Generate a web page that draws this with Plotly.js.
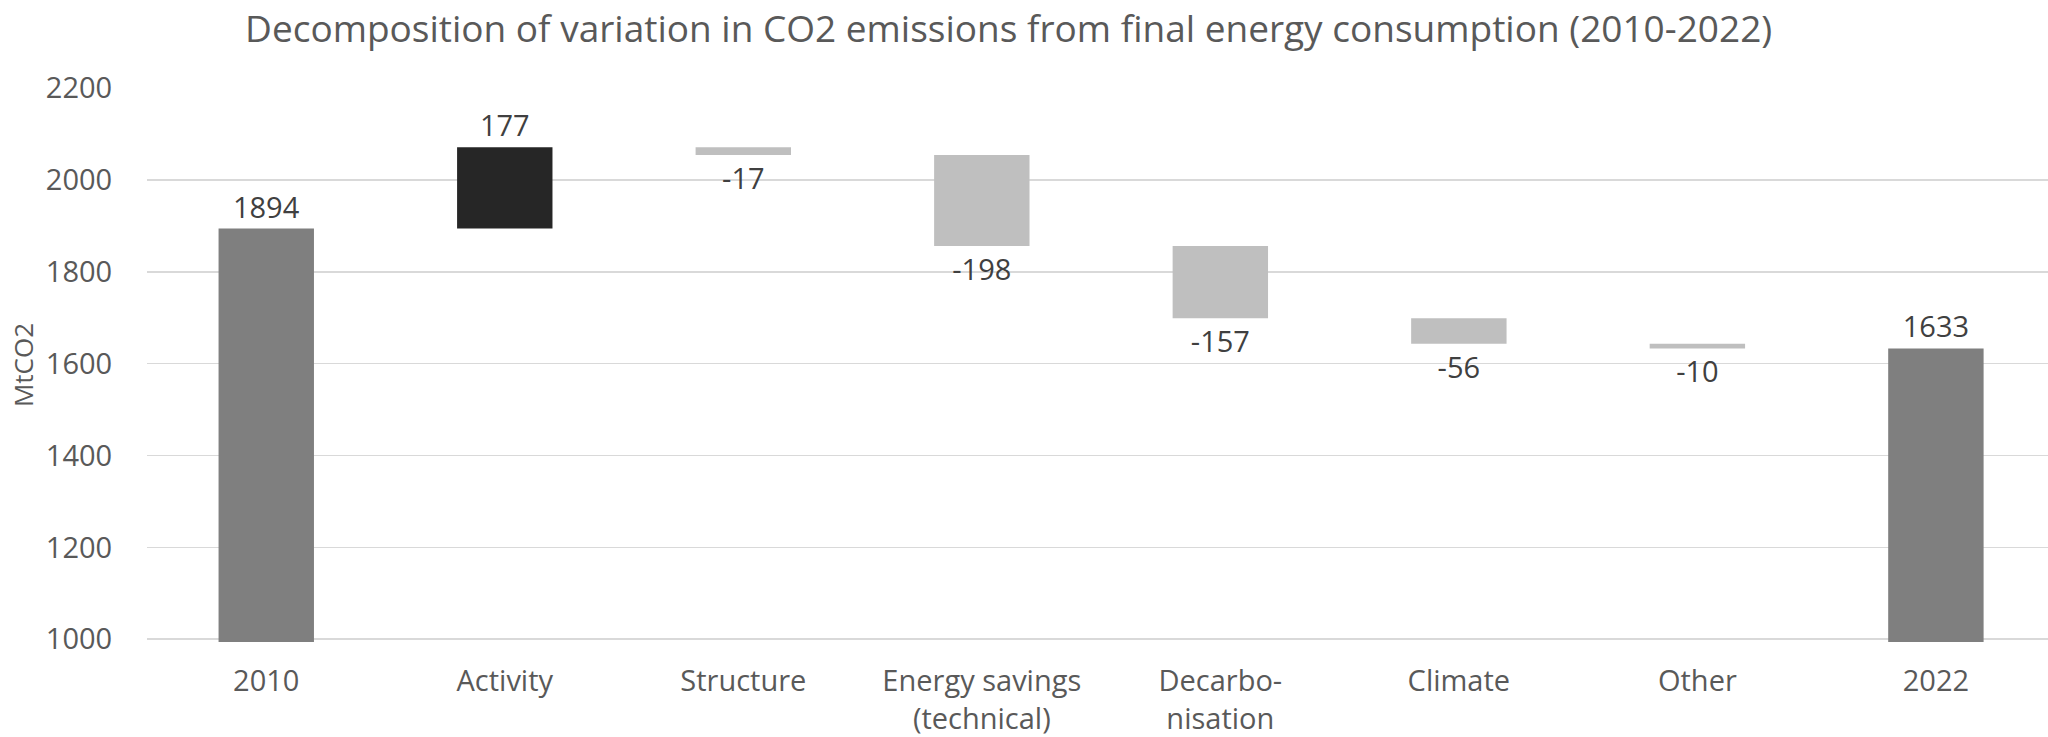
<!DOCTYPE html>
<html>
<head>
<meta charset="utf-8">
<script src="https://cdn.plot.ly/plotly-3.0.1.min.js"></script>
<style>html,body{margin:0;padding:0;background:#fff;}#chart{width:2048px;height:737px;}</style>
</head>
<body>
<div id="chart"></div>
<script>
const categories = ['2010', 'Activity', 'Structure', 'Energy savings<br>(technical)', 'Decarbo-<br>nisation', 'Climate', 'Other', '2022'];
const values = [1894, 177, -17, -198, -157, -56, -10, 1633];
const measures = ['absolute', 'relative', 'relative', 'relative', 'relative', 'relative', 'relative', 'total'];
const valueLabels = ['1894', '177', '-17', '-198', '-157', '-56', '-10', '1633'];
const yTicks = [1000, 1200, 1400, 1600, 1800, 2000, 2200];

const FONT = 'Open Sans, Noto Sans, sans-serif';

const trace = {
  type: 'waterfall',
  x: categories,
  y: values,
  measure: measures,
  text: valueLabels,
  textposition: 'outside',
  textfont: {family: FONT, size: 29, color: '#404040'},
  cliponaxis: false,
  width: 0.4,
  connector: {visible: false},
  increasing: {marker: {color: '#262626'}},
  decreasing: {marker: {color: '#bfbfbf'}},
  totals: {marker: {color: '#7f7f7f'}},
  hoverinfo: 'x+y'
};

const layout = {
  width: 2048,
  height: 737,
  margin: {l: 147, r: 0, t: 88, b: 95, pad: 0},
  paper_bgcolor: '#ffffff',
  plot_bgcolor: '#ffffff',
  showlegend: false,
  font: {family: FONT, color: '#595959', size: 29},
  title: {
    text: 'Decomposition of variation in CO2 emissions from final energy consumption (2010-2022)',
    font: {family: FONT, size: 37, color: '#595959'},
    xref: 'container', yref: 'container',
    x: 0.4925, xanchor: 'center',
    y: 0.961, yanchor: 'middle'
  },
  xaxis: {
    type: 'category',
    range: [-0.5, 7.47],
    showgrid: false,
    zeroline: false,
    showline: false,
    ticks: 'outside',
    ticklen: 13,
    tickcolor: 'rgba(0,0,0,0)',
    tickfont: {family: FONT, size: 29, color: '#595959'},
    automargin: false
  },
  yaxis: {
    range: [994, 2200],
    tickvals: yTicks,
    ticktext: yTicks.map(String),
    showgrid: true,
    gridcolor: '#d9d9d9',
    gridwidth: 1.6,
    zeroline: false,
    showline: false,
    ticks: 'outside',
    ticklen: 28,
    tickcolor: 'rgba(0,0,0,0)',
    tickfont: {family: FONT, size: 29, color: '#595959'},
    title: {text: 'MtCO2', font: {family: FONT, size: 26, color: '#595959'}, standoff: 4},
    automargin: false
  }
};

Plotly.newPlot('chart', [trace], layout, {staticPlot: true, displayModeBar: false});
</script>
</body>
</html>
